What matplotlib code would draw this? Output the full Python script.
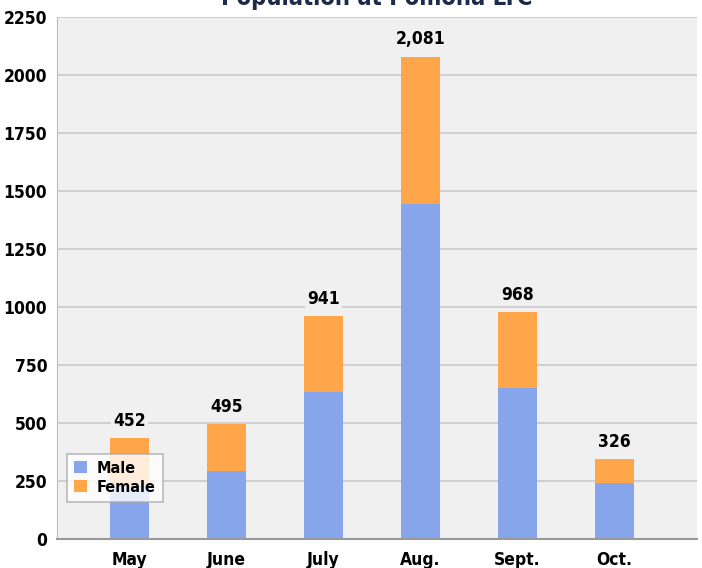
import matplotlib.pyplot as plt
import numpy as np

plt.rcParams['font.family'] = ['DejaVu Sans']
plt.rcParams['font.stretch'] = 'condensed'
plt.rcParams['font.weight'] = 'bold'

months = ['May', 'June', 'July', 'Aug.', 'Sept.', 'Oct.']
male = [230, 293, 633, 1445, 652, 241]
female = [204, 202, 328, 636, 326, 103]
totals = [452, 495, 941, 2081, 968, 326]
yticks = [0, 250, 500, 750, 1000, 1250, 1500, 1750, 2000, 2250]

fig = plt.figure(figsize=(7.02, 5.68), dpi=100)
ax = fig.add_axes([0.0812, 0.0511, 0.9117, 0.9183])
ax.set_facecolor('#f0f0f0')

x = np.arange(len(months))
ax.bar(x, male, width=0.4, color='#87a5eb', label='Male', zorder=2)
ax.bar(x, female, width=0.4, bottom=male, color='#ffa54a', label='Female', zorder=2)

# totals above the stacks
tops = np.array(male) + np.array(female)
for xi, top, t in zip(x, tops, totals):
    ax.annotate(f'{t:,}', (xi, top), xytext=(0, 6), textcoords='offset points',
                ha='center', va='bottom', fontsize=12.5, fontweight='bold',
                bbox=dict(facecolor='#f0f0f0', edgecolor='none', pad=1.5), zorder=3)

ax.set_xlim(-0.75, 5.85)
ax.set_ylim(0, 2250)
ax.set_yticks(yticks)
ax.set_xticks(x)
ax.set_xticklabels(months)
ax.tick_params(axis='both', length=0, labelsize=12.5)
ax.tick_params(axis='y', pad=7)
ax.tick_params(axis='x', pad=9)
ax.yaxis.grid(True, color='#cccccc', linewidth=1.3, zorder=0)
ax.set_axisbelow(True)
for s in ['top', 'right']:
    ax.spines[s].set_visible(False)
ax.spines['left'].set_color('#bbbbbb')
ax.spines['bottom'].set_color('#999999')
ax.spines['bottom'].set_linewidth(1.5)

leg = ax.legend(loc='lower left', bbox_to_anchor=(0.016, 0.071), fontsize=11.5,
                frameon=True, fancybox=False, framealpha=0.8, edgecolor='#aaaaaa',
                handlelength=0.8, handleheight=0.8, handletextpad=0.6,
                borderpad=0.45, labelspacing=0.25, borderaxespad=0)
leg.get_frame().set_linewidth(1.2)

fig.text(0.537, 0.991, 'Population at Pomona LTC', ha='center', va='baseline',
         fontsize=17, fontweight='bold', color='#1c2a4c')

fig.savefig('out.png', dpi=100)
